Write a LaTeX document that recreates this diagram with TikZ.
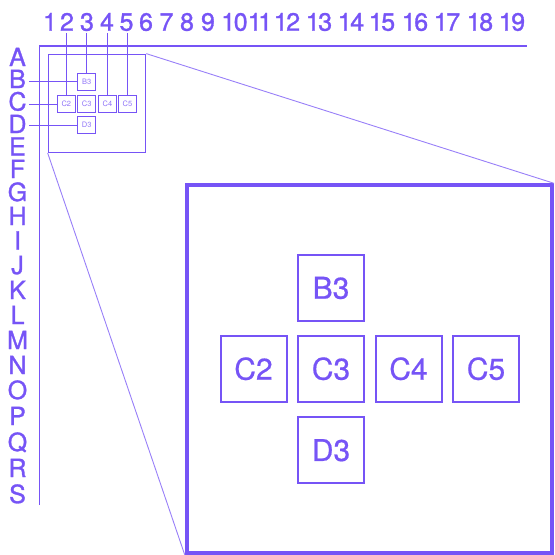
\documentclass[tikz,border=0pt]{standalone}
\usepackage{fontspec}
\setmainfont{TeX Gyre Heros}
\newfontfamily\labfont{TeX Gyre Heros}[FakeBold=1.2]
\newfontfamily\cellfont{TeX Gyre Heros}[FakeBold=0.6]
\definecolor{vio}{RGB}{118,84,246}
\tikzset{
  numlab/.style={text=vio, inner sep=0pt, anchor=base, font=\labfont\fontsize{25}{25}\selectfont},
  letlab/.style={text=vio, inner sep=0pt, anchor=base, font=\labfont\fontsize{25}{21}\selectfont},
  cell/.style={draw=vio, line width=1pt, minimum width=17.5pt, minimum height=17.5pt, inner sep=0pt, text=vio!80, font=\fontsize{7.5}{7.5}\selectfont},
  bigcell/.style={draw=vio, line width=2pt, minimum width=66pt, minimum height=66pt, inner sep=0pt, text=vio, font=\cellfont\fontsize{30}{30}\selectfont},
  guide/.style={draw=vio, line width=0.9pt},
  axisline/.style={draw=vio, line width=1.5pt},
  proj/.style={draw=vio!75, line width=0.9pt},
}
\begin{document}
\begin{tikzpicture}[x=1pt,y=-1pt]
\useasboundingbox (0,0) rectangle (555,555);
% column numbers
\foreach \n/\x in {1/50,2/67,3/87,4/107,5/126.5,6/146,7/166.5,8/187,9/208}
  \node[numlab] (n\n) at (\x,30.7) {\n};
\node[numlab] (n10) at (234.5,30.7) {1\kern-1.5pt0};
\node[numlab] (n11) at (260,30.7) {1\kern-3.5pt1};
\foreach \n/\d/\x in {12/2/287,13/3/319,14/4/351,15/5/382,16/6/415,17/7/447,18/8/480,19/9/512}
  \node[numlab] (n\n) at (\x,30.7) {1\kern-1.5pt\d};
% row letters
\foreach \l/\y in {A/57,B/79,C/101.5,D/124,E/146.5,F/169,G/192,H/216,I/240.5,J/265,K/290,L/315,M/340,N/365,O/390,P/416,Q/442,R/468,S/494}
  \node[letlab] (l\l) at (17.5,\y+9) {\l};
% axes
\coordinate (axbot) at (39.3,505);
\coordinate (axcorner) at (39.3,46);
\coordinate (axright) at (527,46);
\draw[axisline] (axbot) -- (axcorner) -- (axright);
% small overview box
\node[draw=vio, line width=1.3pt, minimum width=97.4pt, minimum height=98pt, inner sep=0pt] (small) at (97,103.3) {};
% big box
\node[draw=vio, line width=4pt, minimum width=365.3pt, minimum height=367.4pt, inner sep=0pt] (big) at (369.35,369) {};
% projection lines
\draw[proj] (small.north east) -- (big.north east);
\draw[proj] (small.south west) -- (big.south west);
% small cells
\node[cell] (sB3) at (86.65,81.85) {B3};
\node[cell] (sC2) at (66.3,104.15) {C2};
\node[cell] (sC3) at (86.65,104.15) {C3};
\node[cell] (sC4) at (107.5,104.15) {C4};
\node[cell] (sC5) at (127.5,104.15) {C5};
\node[cell] (sD3) at (86.65,125.15) {D3};
% guide lines
\coordinate (topy) at (0,33);
\coordinate (lefx) at (29,0);
\draw[guide] (sC2.north) -- (sC2.north |- topy);
\draw[guide] (sB3.north) -- (sB3.north |- topy);
\draw[guide] (sC4.north) -- (sC4.north |- topy);
\draw[guide] (sC5.north) -- (sC5.north |- topy);
\draw[guide] (sB3.west) -- (sB3.west -| lefx);
\draw[guide] (sC2.west) -- (sC2.west -| lefx);
\draw[guide] (sD3.west) -- (sD3.west -| lefx);
% big cells
\node[bigcell] (bB3) at (331,288) {B3};
\node[bigcell] (bC2) at (253.5,368.75) {C2};
\node[bigcell] (bC3) at (331,368.75) {C3};
\node[bigcell] (bC4) at (408.5,368.75) {C4};
\node[bigcell] (bC5) at (486,368.75) {C5};
\node[bigcell] (bD3) at (331,450.25) {D3};
\end{tikzpicture}
\end{document}
